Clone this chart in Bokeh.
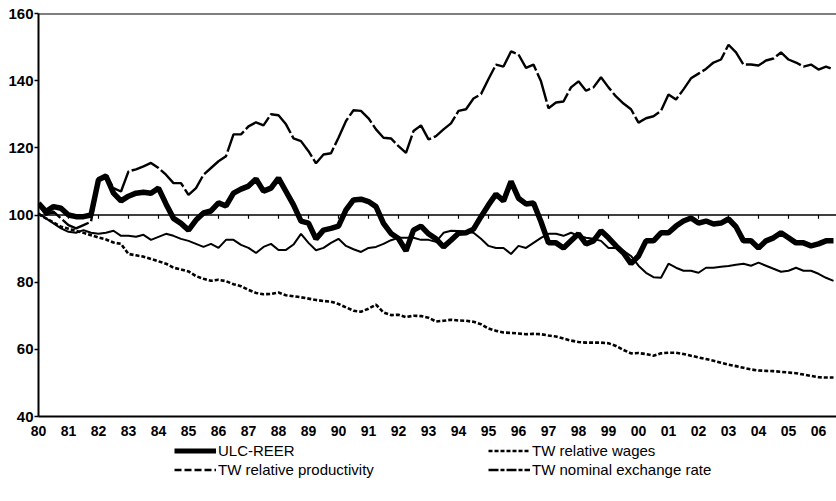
import numpy as np
from bokeh.plotting import figure
from bokeh.layouts import column
from bokeh.models import Range1d, Span, Legend, LegendItem, FixedTicker, ColumnDataSource
from bokeh.embed import file_html
from bokeh.resources import INLINE

# quarterly data, 1980Q1 .. 2006Q3
start_year = 1980
ulc_reer = [103.5, 101, 102.5, 102, 100, 99.5, 99.5, 100, 110.5, 111.6,
            106.5, 104.2, 105.6, 106.5, 106.8, 106.5, 108, 103.3, 99, 97.5,
            95.5, 98.5, 100.6, 101.2, 103.6, 102.7, 106.5, 107.7, 108.6, 110.7,
            107.1, 108, 111, 107, 103, 98.2, 97.6, 92.9, 95.5, 96,
            96.7, 101.5, 104.5, 104.7, 104, 102.5, 97.5, 94.5, 93, 89.3,
            95.5, 96.7, 94.4, 92.9, 90.5, 92.5, 94.6, 94.7, 95.8, 99.5,
            103, 106.2, 104.2, 110, 105, 103.3, 103.6, 98, 91.7, 91.7,
            90.2, 92.3, 94.4, 91.4, 92.3, 95.3, 93.2, 90.8, 88.7, 85.5,
            87.8, 92.3, 92.3, 94.7, 94.7, 96.7, 98.2, 99.1, 97.6, 98.2,
            97.3, 97.6, 98.8, 96.5, 92.3, 92.3, 90.2, 92.3, 93.2, 94.7,
            93.2, 91.7, 91.7, 90.8, 91.4, 92.3, 92.3]
rel_wages = [100.3, 99, 97.8, 96.5, 95.9, 95.3, 94.7, 94, 93.3, 92.7,
             91.8, 91.4, 88.4, 88, 87.6, 86.9, 86.2, 85.5, 84.3, 83.8,
             83.2, 81.8, 81, 80.4, 80.7, 80.3, 79.4, 78.8, 77.7, 76.8,
             76.4, 76.5, 76.9, 76.1, 75.8, 75.5, 75.1, 74.7, 74.4, 74.2,
             73.5, 72.5, 71.5, 71.2, 72.1, 73.3, 71, 70.2, 70.3, 69.6,
             70, 69.9, 69.4, 68.3, 68.5, 68.8, 68.6, 68.5, 68.2, 67.5,
             66.2, 65.5, 65, 64.9, 64.7, 64.5, 64.6, 64.5, 64.1, 63.8,
             63.2, 62.6, 62.2, 62, 62, 62, 61.8, 61, 59.8, 58.8,
             58.9, 58.6, 58.1, 58.8, 59, 59, 58.6, 58.1, 57.6, 57.1,
             56.6, 56, 55.4, 55, 54.5, 54, 53.7, 53.6, 53.5, 53.3,
             53.1, 52.9, 52.5, 52.1, 51.7, 51.6, 51.6]
rel_productivity = [100.5, 99, 97.5, 96, 95, 94.7, 95.5, 94.7, 94.4, 94.7,
                    95.3, 93.8, 93.8, 93.5, 94.1, 92.6, 93.5, 94.4, 93.8, 92.9,
                    92.3, 91.4, 90.5, 91.4, 90.2, 92.6, 92.6, 91.1, 90.2, 88.7,
                    90.5, 91.4, 89.6, 89.6, 91.2, 94.4, 91.7, 89.5, 90.2, 91.7,
                    92.9, 90.8, 89.8, 89, 90.2, 90.5, 91.4, 92.5, 93.2, 93.2,
                    93.2, 92.6, 92.6, 92, 94.7, 95.3, 95.2, 95, 94.7, 92.9,
                    90.8, 90.2, 90.2, 88.4, 90.8, 90.2, 91.7, 93.2, 94.4, 94.4,
                    93.8, 94.7, 93.8, 93.2, 92.9, 92.3, 90.2, 90.2, 89.3, 87.8,
                    84.9, 82.8, 81.5, 81.3, 85.5, 84.3, 83.4, 83.4, 82.8, 84.3,
                    84.3, 84.6, 84.8, 85.2, 85.5, 84.9, 85.8, 84.9, 84, 83.1,
                    83.4, 84.3, 83.4, 83.4, 82.5, 81.3, 80.4]
nominal_rate = [103, 100, 101, 99, 97, 96, 97, 98, 110, 112,
                108, 107, 113, 113.6, 114.5, 115.5, 114, 112, 109.5, 109.5,
                106, 108, 112, 114, 116, 117.5, 124, 124, 126.4, 127.6,
                126.7, 130, 129.7, 127, 122.8, 122, 119, 115.4, 118, 118.4,
                123, 128, 131.2, 131, 128.8, 125.5, 123, 122.8, 120.5, 118.5,
                125, 126.7, 122.5, 123.5, 125.5, 127.3, 131, 131.5, 134.7, 136,
                140.5, 144.8, 144.2, 148.7, 147.8, 143.8, 144.8, 139.8, 131.8, 133.5,
                133.8, 138, 139.8, 137, 138, 141, 138, 135.3, 133.2, 131.5,
                127.5, 128.8, 129.4, 131, 135.9, 134.4, 137.4, 140.7, 142.1, 143.5,
                145.4, 146.3, 150.7, 148.4, 144.8, 144.8, 144.5, 146, 146.6, 148.4,
                146.3, 145.4, 144.2, 144.8, 143.3, 144.2, 143.3]
tick_years = list(range(1980, 2007))
tick_labels = ["80", "81", "82", "83", "84", "85", "86", "87", "88", "89",
               "90", "91", "92", "93", "94", "95", "96", "97", "98", "99",
               "00", "01", "02", "03", "04", "05", "06"]
y_ticks = [40, 60, 80, 100, 120, 140, 160]

quarter_x = [start_year + i / 4 for i in range(len(ulc_reer))]
src = ColumnDataSource(dict(x=quarter_x, ulc=ulc_reer, wages=rel_wages,
                            prod=rel_productivity, ner=nominal_rate))

FONT = "Liberation Sans"

p = figure(width=836, height=440, output_backend="svg", toolbar_location=None,
           x_range=Range1d(1980, 2006.6), y_range=Range1d(40, 160),
           min_border_left=38, min_border_right=0, min_border_top=13,
           min_border_bottom=24)
p.outline_line_color = None
p.xgrid.visible = False
p.ygrid.visible = False
p.background_fill_color = "white"
p.border_fill_color = "white"

# axes
p.yaxis.ticker = FixedTicker(ticks=y_ticks)
p.yaxis.axis_line_width = 2
p.yaxis.axis_line_color = "black"
p.yaxis.major_tick_out = 4
p.yaxis.major_tick_in = 0
p.yaxis.minor_tick_line_color = None
p.yaxis.major_tick_line_width = 1.5
p.yaxis.major_label_standoff = 1
p.yaxis.major_label_text_font = FONT
p.yaxis.major_label_text_font_size = "15px"
p.yaxis.major_label_text_font_style = "bold"
p.yaxis.major_label_text_color = "black"

p.xaxis.ticker = FixedTicker(ticks=tick_years)
p.xaxis.major_label_overrides = {y: l for y, l in zip(tick_years, tick_labels)}
p.xaxis.axis_line_width = 2
p.xaxis.axis_line_color = "black"
p.xaxis.major_tick_line_color = None
p.xaxis.minor_tick_line_color = None
p.xaxis.major_tick_out = 0
p.xaxis.major_tick_in = 0
p.xaxis.major_label_standoff = 9
p.xaxis.major_label_text_font = FONT
p.xaxis.major_label_text_font_size = "14px"
p.xaxis.major_label_text_font_style = "bold"
p.xaxis.major_label_text_color = "black"

# top border and the 100 base line with its small ticks
p.add_layout(Span(location=160, dimension="width", line_color="black", line_width=1.8))
p.add_layout(Span(location=100, dimension="width", line_color="black", line_width=1.5))
p.segment(x0=tick_years[1:], x1=tick_years[1:], y0=[100] * (len(tick_years) - 1),
          y1=[98.9] * (len(tick_years) - 1), line_color="black", line_width=1.2)

# series
p.line("x", "ner", source=src, line_color="black", line_width=2.4, line_dash="30 3")
p.line("x", "prod", source=src, line_color="black", line_width=2)
p.line("x", "wages", source=src, line_color="black", line_width=2.6, line_dash="4 2")
p.line("x", "ulc", source=src, line_color="black", line_width=5.5)

# legend in its own strip below the chart
lg = figure(width=836, height=60, output_backend="svg", toolbar_location=None,
            x_range=Range1d(0, 1), y_range=Range1d(0, 1),
            x_axis_location=None, y_axis_location=None,
            min_border_left=0, min_border_right=0, min_border_top=0, min_border_bottom=0)
lg.grid.visible = False
lg.outline_line_color = None
lg.background_fill_color = "white"
lg.border_fill_color = "white"

dummy = ColumnDataSource(dict(x=[float("nan")], y=[float("nan")]))
l_ulc = lg.line("x", "y", source=dummy, line_color="black", line_width=5)
l_wages = lg.line("x", "y", source=dummy, line_color="black", line_width=2.6, line_dash="4 2")
l_prod = lg.line("x", "y", source=dummy, line_color="black", line_width=2.4, line_dash="7 3")
l_ner = lg.line("x", "y", source=dummy, line_color="black", line_width=2.4, line_dash="10 2 4 2")

def make_legend(items, x):
    return Legend(items=items, location=(x, 21), orientation="vertical",
                  glyph_width=42, glyph_height=19, label_height=19,
                  label_standoff=2, spacing=0, padding=0, margin=0,
                  border_line_color=None, background_fill_alpha=0,
                  label_text_font=FONT, label_text_font_size="15px",
                  label_text_color="black")

lg.add_layout(make_legend([LegendItem(label="ULC-REER", renderers=[l_ulc]),
                           LegendItem(label="TW relative productivity", renderers=[l_prod])], 136))
lg.add_layout(make_legend([LegendItem(label="TW relative wages", renderers=[l_wages]),
                           LegendItem(label="TW nominal exchange rate", renderers=[l_ner])], 450))

layout = column(p, lg, spacing=0)
open("out.html", "w").write(file_html(layout, INLINE))
